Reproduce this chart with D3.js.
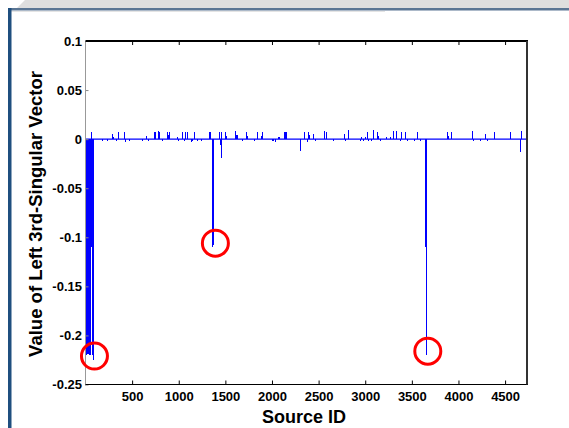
<!DOCTYPE html>
<head>
<title>Value of Left 3rd-Singular Vector</title>
<style>
  body { margin: 0; background: #ffffff; }
  text { font-family: Arial, "Liberation Sans", sans-serif; }
</style>
</head>
<body>
<script src="https://cdn.jsdelivr.net/npm/d3@7/dist/d3.min.js"></script>
<script>

// --- data ---
// dense block of sources at the very start
var leftIds  = [2, 4, 6, 8, 10, 12, 14, 16, 18, 20, 22, 24, 26, 28, 30, 32, 34, 36, 38, 40,
                42, 45, 48, 51, 54, 57, 60, 63, 66, 70, 74, 88];
var leftVals = [-0.214, -0.219, -0.21, -0.216, -0.22, -0.212, -0.218, -0.21, -0.215, -0.219, -0.211, -0.217, -0.213,
                -0.216, -0.21, -0.218, -0.212, -0.219, -0.214, -0.21,
                -0.11, -0.11, -0.22, -0.11, -0.11, -0.22, -0.11, -0.11, -0.11, -0.218, -0.22, -0.225];

// the big isolated spikes and the medium negative ones
var peakIds  = [1366, 1370, 1447, 1454, 2304, 3650, 3655, 3660, 4662];
var peakVals = [-0.11, -0.108, -0.006, -0.019, -0.012, -0.11, -0.11, -0.22, -0.013];

// small spikes around zero
var smallIds  = [66, 179, 232, 293, 304, 332, 350, 422, 429, 475, 607, 650, 672, 740, 750, 782, 793, 829, 875, 890, 904,
                 983, 1000, 1036, 1061, 1072, 1097, 1136, 1150, 1165, 1204, 1243, 1326, 1340, 1440, 1460, 1500, 1511,
                 1607, 1618, 1625, 1686, 1722, 1733, 1815, 1847, 1883, 1893, 2001, 2019, 2036, 2072, 2083, 2129, 2144,
                 2161, 2351, 2376, 2394, 2404, 2447, 2465, 2565, 2590, 2661, 2776, 2787, 2819, 2947, 2965, 2983, 3005,
                 3026, 3040, 3065, 3090, 3136, 3147, 3162, 3233, 3272, 3298, 3340, 3376, 3390, 3430, 3458, 3526, 3565,
                 3591, 3887, 3898, 3930, 4155, 4162, 4240, 4294, 4312, 4384, 4562, 4673];
var smallVals = [0.007, -0.002, -0.002, 0.005, 0.002, -0.002, 0.007, 0.007, -0.003, -0.002, -0.002, 0.003, -0.002, 0.007,
                 0.007, 0.008, 0.007, -0.002, 0.007, 0.004, 0.007, 0.002, -0.002, 0.007, -0.002, 0.007, 0.007, -0.003,
                 -0.002, 0.007, -0.002, -0.002, 0.007, 0.007, 0.007, 0.007, 0.007, 0.003, 0.008, 0.004, 0.004, -0.002,
                 0.007, 0.003, -0.002, 0.007, 0.003, 0.007, -0.002, -0.002, -0.003, 0.002, 0.002, 0.007, 0.007, 0.007,
                 0.007, -0.003, 0.007, 0.004, 0.005, -0.002, 0.008, 0.007, -0.002, 0.005, -0.002, 0.009, -0.002, 0.002,
                 -0.002, 0.002, 0.007, -0.002, -0.002, 0.009, 0.007, 0.003, -0.002, 0.002, 0.002, 0.008, 0.008, -0.002,
                 0.007, 0.007, -0.002, -0.002, 0.007, -0.002, 0.007, 0.003, 0.007, 0.008, -0.002, -0.002, 0.005, -0.002,
                 0.007, 0.007, 0.008];

// red circles marking the three peaks
var markIds  = [96, 1393, 3671];
var markVals = [-0.221, -0.106, -0.216];

var xTicks = [500, 1000, 1500, 2000, 2500, 3000, 3500, 4000, 4500];
var yTicks = [0.1, 0.05, 0, -0.05, -0.1, -0.15, -0.2, -0.25];
var xDomain = [0, 4735];
var yDomain = [-0.25, 0.1];

// --- layout ---
var W = 569, H = 428;
var plotL = 85.5, plotR = 527, plotT = 41, plotB = 384.5;

var svg = d3.select("body").append("svg")
    .attr("width", W)
    .attr("height", H);

// slide frame decoration
svg.append("rect").attr("x", 0).attr("y", 0).attr("width", W).attr("height", H).attr("fill", "#ffffff");
svg.append("path")
    .attr("d", "M25,0 L" + W + ",0 L" + W + ",9 L16,9 Z")
    .attr("fill", "#dedede");
svg.append("rect").attr("x", 8).attr("y", 8).attr("width", W - 8).attr("height", 2.5).attr("fill", "#5a7593");
svg.append("rect").attr("x", 10).attr("y", 11).attr("width", 375).attr("height", 1).attr("fill", "#e4e4e4");
svg.append("rect").attr("x", 8).attr("y", 8).attr("width", 3.5).attr("height", H - 8).attr("fill", "#1f4f7f");

var x = d3.scaleLinear().domain(xDomain).range([plotL, plotR]);
var y = d3.scaleLinear().domain(yDomain).range([plotB, plotT]);

// merge series
var data = [];
leftIds.forEach(function(d, i) { data.push({id: d, v: leftVals[i]}); });
peakIds.forEach(function(d, i) { data.push({id: d, v: peakVals[i]}); });
smallIds.forEach(function(d, i) { data.push({id: d, v: smallVals[i]}); });

// stems
svg.append("g").selectAll("line")
    .data(data)
    .enter().append("line")
    .attr("x1", function(d) { return x(d.id); })
    .attr("x2", function(d) { return x(d.id); })
    .attr("y1", y(0))
    .attr("y2", function(d) { return y(d.v); })
    .attr("stroke", "#0000ff")
    .attr("stroke-width", 1)
    .attr("shape-rendering", "crispEdges");

// zero baseline
svg.append("line")
    .attr("x1", x(xDomain[0])).attr("x2", x(xDomain[1]))
    .attr("y1", y(0)).attr("y2", y(0))
    .attr("stroke", "#0000ff")
    .attr("stroke-width", 1.3);

// axes
var xAxisB = svg.append("g")
    .attr("transform", "translate(0," + plotB + ")")
    .call(d3.axisBottom(x).tickValues(xTicks).tickSize(-4).tickPadding(7).tickFormat(d3.format("d")));
xAxisB.select(".domain").remove();
xAxisB.selectAll("line").attr("stroke", "#000");
xAxisB.selectAll("text").attr("font-size", "13px").attr("font-weight", "bold").attr("fill", "#000");

var xAxisT = svg.append("g")
    .attr("transform", "translate(0," + plotT + ")")
    .call(d3.axisTop(x).tickValues(xTicks).tickSize(-4).tickFormat(""));
xAxisT.select(".domain").remove();

var yAxis = svg.append("g")
    .attr("transform", "translate(" + plotL + ",0)")
    .call(d3.axisLeft(y).tickValues(yTicks).tickSize(-3).tickPadding(3.5).tickFormat(function(d) { return String(+d.toFixed(2)); }));
yAxis.select(".domain").remove();
yAxis.selectAll("line").attr("stroke", "#888");
yAxis.selectAll("text").attr("font-size", "13px").attr("font-weight", "bold").attr("fill", "#000");

// box lines
svg.append("line").attr("x1", plotL).attr("x2", plotL).attr("y1", plotT).attr("y2", plotB + 1)
    .attr("stroke", "#999").attr("stroke-width", 1);
svg.append("line").attr("x1", plotL).attr("x2", plotR + 1).attr("y1", plotT).attr("y2", plotT)
    .attr("stroke", "#000").attr("stroke-width", 2);
svg.append("line").attr("x1", plotL).attr("x2", plotR + 1).attr("y1", plotB).attr("y2", plotB)
    .attr("stroke", "#000").attr("stroke-width", 1.2);
svg.append("line").attr("x1", plotR).attr("x2", plotR).attr("y1", plotT).attr("y2", plotB)
    .attr("stroke", "#333").attr("stroke-width", 2);

// red circle annotations
svg.append("g").selectAll("circle")
    .data(markIds)
    .enter().append("circle")
    .attr("cx", function(d) { return x(d); })
    .attr("cy", function(d, i) { return y(markVals[i]); })
    .attr("r", 13)
    .attr("fill", "none")
    .attr("stroke", "#ff0000")
    .attr("stroke-width", 3);

// axis titles
svg.append("text")
    .attr("x", 304)
    .attr("y", 423)
    .attr("text-anchor", "middle")
    .attr("font-size", "18px")
    .attr("font-weight", "bold")
    .text("Source ID");

svg.append("text")
    .attr("transform", "translate(42,214) rotate(-90)")
    .attr("text-anchor", "middle")
    .attr("font-size", "18.5px")
    .attr("font-weight", "bold")
    .text("Value of Left 3rd-Singular Vector");

</script>
</body>
